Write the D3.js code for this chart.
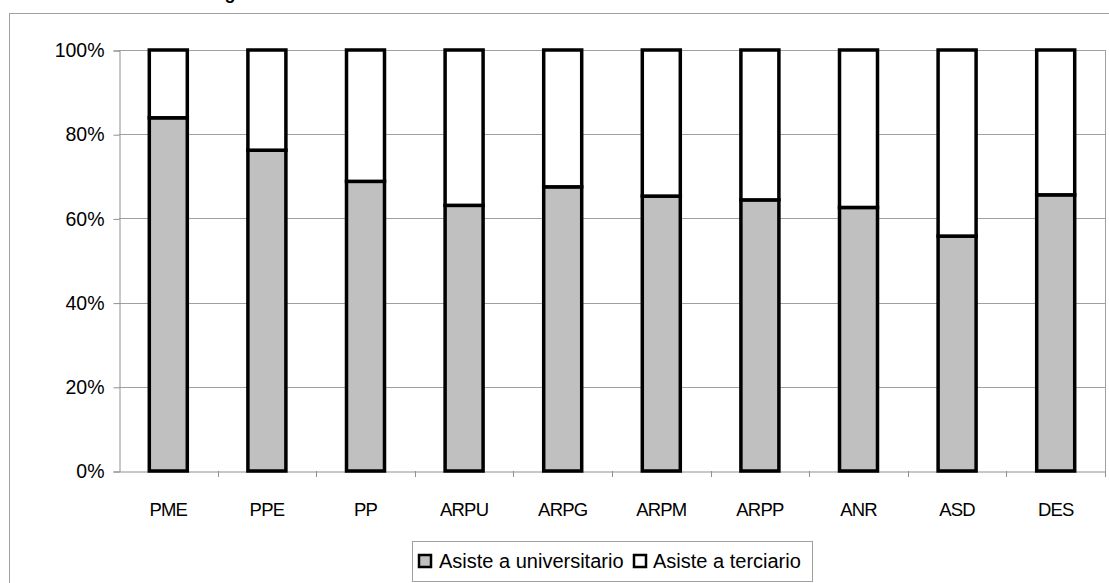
<!DOCTYPE html>
<html><head><meta charset="utf-8">
<script src="https://cdn.jsdelivr.net/npm/d3@7"></script>
<style>body{margin:0;background:#fff;}svg{display:block;font-family:"Liberation Sans",Arial,sans-serif;}</style>
</head><body>
<svg id="c" width="1109" height="583"></svg>
<script>
const categories = ["PME","PPE","PP","ARPU","ARPG","ARPM","ARPP","ANR","ASD","DES"];
const universitario = [0.839,0.762,0.688,0.631,0.675,0.653,0.644,0.626,0.558,0.656];
const terciario = universitario.map(v => 1 - v);
const seriesNames = ["Asiste a universitario","Asiste a terciario"];
const seriesColors = ["#c0c0c0","#ffffff"];
const yTicks = [0,0.2,0.4,0.6,0.8,1];

const svg = d3.select("#c");
const L = 119, R = 1105, T = 50, B = 471;

// outer chart border
svg.append("rect").attr("x",9.5).attr("y",13.5).attr("width",1120).attr("height",600)
  .attr("fill","none").attr("stroke","#a0a0a0").attr("stroke-width",1);

// partial title (cut off at the top edge, as in the reference)
svg.append("text").attr("x",230).attr("y",-1).attr("text-anchor","middle")
  .attr("font-size",18).attr("font-weight","bold").text("g");

const x = d3.scaleBand().domain(categories).range([L,R]).paddingInner(0).paddingOuter(0);
const y = d3.scaleLinear().domain([0,1]).range([B,T]);

// gridlines
svg.append("g").selectAll("line").data(yTicks.slice(1)).join("line")
  .attr("x1",L).attr("x2",R).attr("y1",d=>Math.round(y(d))+0.5).attr("y2",d=>Math.round(y(d))+0.5)
  .attr("stroke","#a0a0a0").attr("stroke-width",1);
// right plot border
svg.append("line").attr("x1",R+0.5).attr("x2",R+0.5).attr("y1",T).attr("y2",B)
  .attr("stroke","#a0a0a0");

// y axis
const yAxis = d3.axisLeft(y).tickValues(yTicks).tickFormat(d3.format(".0%")).tickSize(6).tickPadding(9);
const gy = svg.append("g").attr("transform",`translate(${L+0.5},0.5)`).call(yAxis);
gy.select(".domain").attr("stroke","#909090");
gy.selectAll(".tick line").attr("stroke","#909090");
gy.selectAll("text").attr("font-size",19.5).attr("fill","#000").attr("font-family","Liberation Sans, Arial, sans-serif");

// x axis
const xAxis = d3.axisBottom(x).tickSize(0).tickPadding(31);
const gx = svg.append("g").attr("transform",`translate(0,${B+0.5})`).call(xAxis);
gx.select(".domain").attr("stroke","#909090");
gx.selectAll("text").attr("font-size",18.5).attr("fill","#000").attr("letter-spacing","-0.8px")
  .attr("font-family","Liberation Sans, Arial, sans-serif");
// x tick marks at band boundaries
svg.append("g").selectAll("line").data(categories.slice(1).concat(["__end"])).join("line")
  .attr("x1",d=> d==="__end" ? R+0.5 : Math.round(x(d))+0.5)
  .attr("x2",d=> d==="__end" ? R+0.5 : Math.round(x(d))+0.5)
  .attr("y1",B).attr("y2",B+6).attr("stroke","#909090");

// stacked bars
const rows = categories.map((c,i)=>({cat:c, u:universitario[i], t:terciario[i]}));
const stack = d3.stack().keys(["u","t"])(rows);
const bw = 38;
svg.append("g").selectAll("g").data(stack).join("g")
  .attr("fill",(d,i)=>seriesColors[i])
  .selectAll("rect").data(d=>d).join("rect")
  .attr("x",d=>x(d.data.cat)+x.bandwidth()/2-bw/2)
  .attr("width",bw)
  .attr("y",d=>y(d[1]))
  .attr("height",d=>y(d[0])-y(d[1]))
  .attr("stroke","#000").attr("stroke-width",3.5);

// legend
const lg = svg.append("g");
lg.append("rect").attr("x",412.5).attr("y",541.5).attr("width",400).attr("height",40)
  .attr("fill","#fff").attr("stroke","#a0a0a0");
const items = [{x:419, tx:439},{x:634, tx:653}];
seriesNames.forEach((n,i)=>{
  lg.append("rect").attr("x",items[i].x).attr("y",555).attr("width",12).attr("height",12)
    .attr("fill",seriesColors[i]).attr("stroke","#000").attr("stroke-width",2.5);
  lg.append("text").attr("x",items[i].tx).attr("y",568).attr("font-size",20).text(n);
});
</script>
</body></html>
